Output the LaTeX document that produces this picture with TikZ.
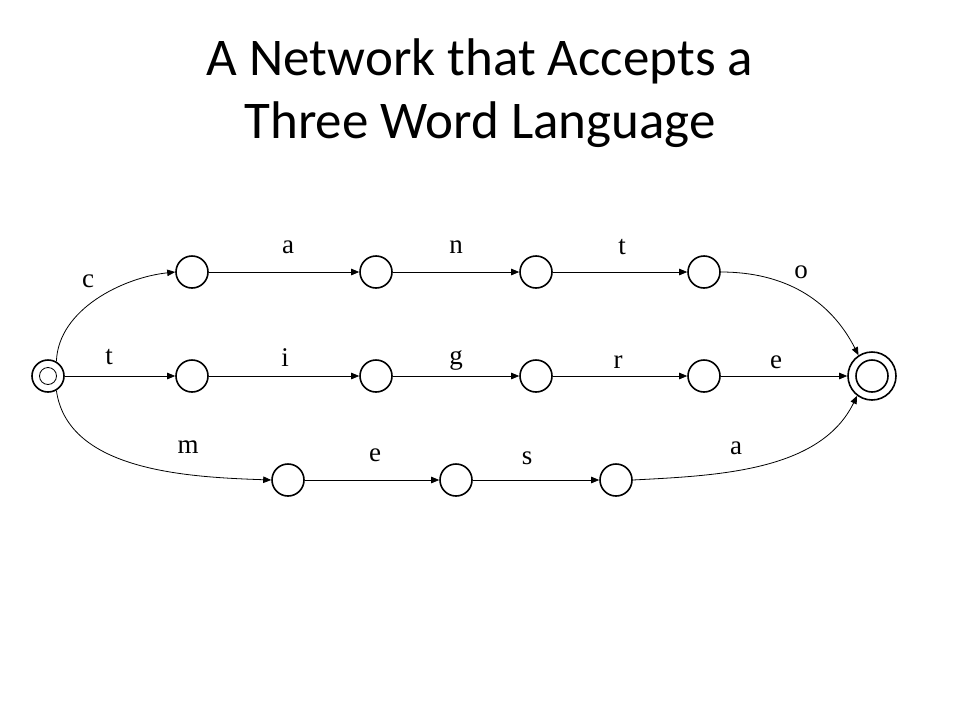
\documentclass[tikz,border=0pt]{standalone}
\usepackage{fontspec}
\setmainfont{Liberation Serif}
\newfontfamily\titlefont{Carlito}
\usetikzlibrary{arrows.meta}
\begin{document}
\begin{tikzpicture}[x=1pt,y=-1pt,
  state/.style={circle,draw,line width=1.6pt,minimum size=32pt,inner sep=0pt},
  edge/.style={line width=0.8pt,-{Triangle[length=8pt,width=6.5pt]}},
  lab/.style={font=\fontsize{27}{30}\selectfont,inner sep=0pt},
  ttl/.style={font=\titlefont\fontsize{53}{63}\selectfont,anchor=base,inner sep=0pt}]
\useasboundingbox (0,0) rectangle (960,720);
\node[ttl] (t1) at (480,75) {A Network that Accepts a};
\node[ttl] (t2) at (480,138) {Three Word Language};
% start
\node[state] (s) at (48,376) {};
\node[circle,draw,line width=0.8pt,minimum size=17pt,inner sep=0pt] (si) at (48,376) {};
% final
\node[state,minimum size=48pt] (f) at (872,376) {};
\node[state,minimum size=32pt] (fi) at (872,376) {};
% top row
\node[state] (a1) at (192,272) {};
\node[state] (a2) at (376,272) {};
\node[state] (a3) at (536,272) {};
\node[state] (a4) at (704,272) {};
% middle row
\node[state] (b1) at (192,376) {};
\node[state] (b2) at (376,376) {};
\node[state] (b3) at (536,376) {};
\node[state] (b4) at (704,376) {};
% bottom row
\node[state] (c1) at (288,480) {};
\node[state] (c2) at (456,480) {};
\node[state] (c3) at (616,480) {};
% edges
\draw[edge] (s.60) to[out=88,in=186,looseness=0.9] (a1.west);
\draw[edge] (a1) -- (a2);
\draw[edge] (a2) -- (a3);
\draw[edge] (a3) -- (a4);
\draw[edge] (a4.east) to[out=0,in=117,looseness=1] (f.123);
\draw[edge] (s) -- (b1);
\draw[edge] (b1) -- (b2);
\draw[edge] (b2) -- (b3);
\draw[edge] (b3) -- (b4);
\draw[edge] (b4) -- (f);
\draw[edge] (s.-60) to[out=-82,in=178,looseness=0.9] (c1.west);
\draw[edge] (c1) -- (c2);
\draw[edge] (c2) -- (c3);
\draw[edge] (c3.east) to[out=3,in=244,looseness=0.9] (f.233);
% labels
\node[lab] (lc) at (88,281) {c};
\node[lab] (la) at (288,247) {a};
\node[lab] (ln) at (456,247) {n};
\node[lab] (lt) at (622,247) {t};
\node[lab] (lo) at (801,272) {o};
\node[lab] (lt2) at (109,357) {t};
\node[lab] (li) at (285,358) {i};
\node[lab] (lg) at (456,360) {g};
\node[lab] (lr) at (618,362) {r};
\node[lab] (le) at (776,362) {e};
\node[lab] (lm) at (188,447) {m};
\node[lab] (le2) at (375,455) {e};
\node[lab] (ls) at (527,458) {s};
\node[lab] (la2) at (736,448) {a};
\end{tikzpicture}
\end{document}
